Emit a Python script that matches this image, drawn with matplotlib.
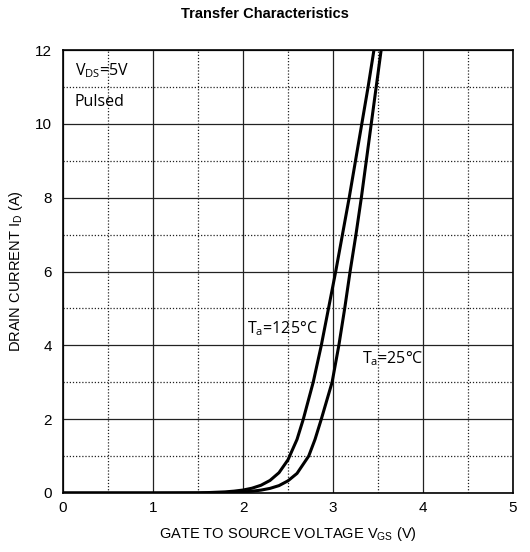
import matplotlib
matplotlib.use("Agg")
import matplotlib.pyplot as plt
from matplotlib.ticker import MultipleLocator

# Data
vgs_125 = [0.0, 1.0, 1.5, 1.6, 1.7, 1.8, 1.9, 2.0, 2.1, 2.2, 2.3, 2.4, 2.5, 2.6, 2.67,
           2.78, 2.87, 2.95, 3.03, 3.105, 3.18, 3.25, 3.32, 3.39, 3.455, 3.49]
id_125 = [0.0, 0.0, 0.005, 0.01, 0.02, 0.03, 0.05, 0.08, 0.13, 0.21, 0.34, 0.55, 0.9, 1.45, 2.0,
          3.0, 4.0, 5.0, 6.0, 7.0, 8.0, 9.0, 10.0, 11.0, 12.0, 12.5]
vgs_25 = [0.0, 1.5, 1.7, 1.8, 1.9, 2.0, 2.1, 2.2, 2.3, 2.4, 2.5, 2.6, 2.73, 2.8, 2.87,
          2.99, 3.065, 3.13, 3.19, 3.255, 3.315, 3.37, 3.425, 3.48, 3.535, 3.56]
id_25 = [0.0, 0.0, 0.007, 0.011, 0.018, 0.03, 0.048, 0.078, 0.125, 0.2, 0.33, 0.53, 1.0, 1.45, 2.0,
         3.0, 4.0, 5.0, 6.0, 7.0, 8.0, 9.0, 10.0, 11.0, 12.0, 12.5]

x_ticks = [0, 1, 2, 3, 4, 5]
y_ticks = [0, 2, 4, 6, 8, 10, 12]

fig = plt.figure(figsize=(5.30, 5.52), dpi=100)
ax = fig.add_axes([63/530, 1 - 493/552, 450/530, 443/552])

ax.set_xlim(0, 5)
ax.set_ylim(0, 12)
ax.set_xticks(x_ticks)
ax.set_yticks(y_ticks)
ax.xaxis.set_minor_locator(MultipleLocator(0.5))
ax.yaxis.set_minor_locator(MultipleLocator(1))
ax.grid(which="major", color="#222222", linewidth=0.9, linestyle="-")
ax.grid(which="minor", color="#222222", linewidth=0.9, linestyle=(0, (1, 1.5)))
ax.set_axisbelow(True)
for s in ax.spines.values():
    s.set_linewidth(1.2)
    s.set_color("black")

ax.tick_params(which="both", length=0)
ax.tick_params(axis="x", pad=6)
ax.tick_params(axis="y", pad=8)
for lab in ax.get_xticklabels() + ax.get_yticklabels():
    lab.set_family("Liberation Sans")
    lab.set_fontsize(11)

ax.plot(vgs_125, id_125, color="black", linewidth=2.2, solid_joinstyle="round")
ax.plot(vgs_25, id_25, color="black", linewidth=2.2, solid_joinstyle="round")

ax.set_xlabel(r"GATE TO SOURCE VOLTAGE V$\mathregular{_{GS}}$ (V)", family="Liberation Sans", fontsize=10.5, labelpad=7)
ax.set_ylabel(r"DRAIN CURRENT I$\mathregular{_{D}}$ (A)", family="Liberation Sans", fontsize=10.5, labelpad=7)
fig.text(0.5, 1 - 14/552, "Transfer Characteristics", ha="center", va="center",
         family="Liberation Sans", fontsize=10.5, fontweight="bold")

tfont = dict(family=["Open Sans", "DejaVu Sans"], fontsize=11.5, color="black")
ax.text(0.13, 11.45, r"$\mathregular{V_{DS}}$=5V", ha="left", va="center", **tfont)
ax.text(0.13, 10.6, "Pulsed", ha="left", va="center", **tfont)
ax.text(2.05, 4.45, r"$\mathregular{T_{a}}$=125°C", ha="left", va="center", **tfont)
ax.text(3.32, 3.65, r"$\mathregular{T_{a}}$=25°C", ha="left", va="center", **tfont)

fig.savefig("out.png", dpi=100, facecolor="white")
